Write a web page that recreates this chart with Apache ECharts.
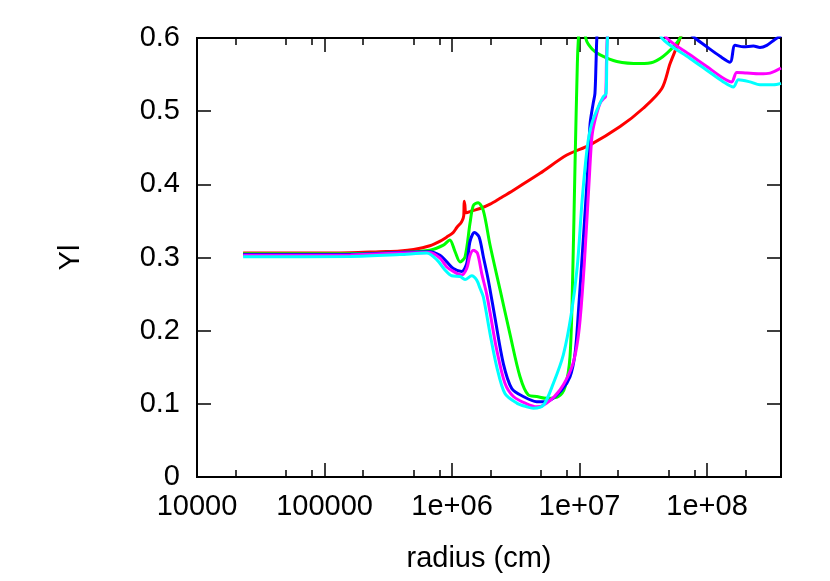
<!DOCTYPE html>
<html>
<head>
<meta charset="utf-8">
<script src="https://cdn.jsdelivr.net/npm/echarts@6/dist/echarts.min.js"></script>
<style>
  html, body { margin: 0; padding: 0; background: #ffffff; }
  #chart { width: 830px; height: 581px; }
</style>
</head>
<body>
<div id="chart"></div>
<script>
// ---- Data (radius in cm, Yl) ----
const xMajorTicks = [1e4, 1e5, 1e6, 1e7, 1e8];
const xMajorLabels = ['10000', '100000', '1e+06', '1e+07', '1e+08'];
const xMinorTicks = [2e4, 5e4, 8e4, 2e5, 5e5, 8e5, 2e6, 5e6, 8e6, 2e7, 5e7, 8e7, 2e8];
const yTicks = [0, 0.1, 0.2, 0.3, 0.4, 0.5, 0.6];

const seriesNames = ['red', 'green', 'blue', 'magenta', 'cyan'];
const seriesColors = ['#ff0000', '#00ff00', '#0000ff', '#ff00ff', '#00ffff'];

const redData = [
  [2.3e4, 0.306], [6.4e4, 0.306], [1.6e5, 0.3065], [2.7e5, 0.308], [3.9e5, 0.309],
  [5e5, 0.311], [6.7e5, 0.316], [8e5, 0.322], [9.1e5, 0.328], [1.02e6, 0.334],
  [1.09e6, 0.341], [1.19e6, 0.349], [1.235e6, 0.357], [1.245e6, 0.377], [1.26e6, 0.372],
  [1.29e6, 0.361], [1.45e6, 0.364], [1.66e6, 0.367], [1.99e6, 0.373], [2.38e6, 0.381],
  [3.03e6, 0.392], [4.9e6, 0.415], [7.94e6, 0.44], [1.21e7, 0.454], [2.08e7, 0.479],
  [3.16e7, 0.504], [4.42e7, 0.531], [5.13e7, 0.565], [6.14e7, 0.6], [7.4e7, 0.65],
  [1e8, 0.72]
];

const greenData = [
  [2.3e4, 0.305], [1.6e5, 0.3055], [3.9e5, 0.307], [6.7e5, 0.310], [8.55e5, 0.317],
  [9.6e5, 0.324], [1.056e6, 0.308], [1.156e6, 0.294], [1.265e6, 0.301], [1.384e6, 0.347],
  [1.469e6, 0.371], [1.6e6, 0.375], [1.76e6, 0.364], [1.986e6, 0.317], [2.38e6, 0.256],
  [2.85e6, 0.195], [3.414e6, 0.137], [3.966e6, 0.112], [4.614e6, 0.110], [5.53e6, 0.1075],
  [6.82e6, 0.110], [7.69e6, 0.123], [8.42e6, 0.165], [8.85e6, 0.28], [9.22e6, 0.429],
  [9.61e6, 0.565], [9.78e6, 0.597], [1.03e7, 0.65], [1.08e7, 0.63], [1.125e7, 0.598],
  [1.253e7, 0.585], [1.45e7, 0.577], [1.96e7, 0.568], [2.98e7, 0.565], [3.79e7, 0.567],
  [4.83e7, 0.579], [6.14e7, 0.6], [8e7, 0.65]
];

const blueData = [
  [2.3e4, 0.304], [1.6e5, 0.3045], [3.9e5, 0.307], [6.7e5, 0.308], [8.05e5, 0.303],
  [9.1e5, 0.294], [1.024e6, 0.285], [1.19e6, 0.281], [1.304e6, 0.292], [1.384e6, 0.322],
  [1.5e6, 0.334], [1.63e6, 0.328], [1.76e6, 0.301], [1.93e6, 0.268], [2.17e6, 0.218],
  [2.525e6, 0.155], [2.94e6, 0.121], [3.62e6, 0.110], [4.61e6, 0.103], [5.53e6, 0.103],
  [7.25e6, 0.119], [8.42e6, 0.137], [9.22e6, 0.169], [9.78e6, 0.224], [1.07e7, 0.325],
  [1.16e7, 0.42], [1.21e7, 0.483], [1.28e7, 0.511], [1.32e7, 0.524], [1.346e7, 0.565],
  [1.364e7, 0.597], [1.45e7, 0.68], [3e7, 0.72], [6.8e7, 0.612], [8.05e7, 0.6],
  [9.95e7, 0.588], [1.265e8, 0.575], [1.514e8, 0.567], [1.658e8, 0.59], [1.93e8, 0.588],
  [2.31e8, 0.589], [2.6e8, 0.587], [2.94e8, 0.59], [3.4e8, 0.598], [3.8e8, 0.603]
];

const magentaData = [
  [2.3e4, 0.303], [1.6e5, 0.3035], [3.9e5, 0.306], [6.7e5, 0.307], [8.05e5, 0.299],
  [9.1e5, 0.287], [1.024e6, 0.281], [1.19e6, 0.276], [1.304e6, 0.285], [1.384e6, 0.303],
  [1.469e6, 0.310], [1.58e6, 0.306], [1.71e6, 0.278], [1.87e6, 0.25], [1.99e6, 0.224],
  [2.24e6, 0.174], [2.6e6, 0.128], [3.03e6, 0.110], [3.85e6, 0.100], [4.61e6, 0.096],
  [5.53e6, 0.101], [7.03e6, 0.119], [8.69e6, 0.150], [9.5e6, 0.178], [1.01e7, 0.215],
  [1.09e7, 0.292], [1.19e7, 0.406], [1.25e7, 0.465], [1.323e7, 0.488], [1.449e7, 0.511],
  [1.538e7, 0.517], [1.6e7, 0.52], [1.625e7, 0.565], [1.645e7, 0.597], [1.75e7, 0.68],
  [3e7, 0.7], [4.3e7, 0.62], [4.83e7, 0.6], [7.36e7, 0.577], [9.95e7, 0.561],
  [1.343e8, 0.545], [1.562e8, 0.540], [1.71e8, 0.553], [2.05e8, 0.552], [2.6e8, 0.551],
  [3.12e8, 0.552], [3.8e8, 0.559]
];

const cyanData = [
  [2.3e4, 0.301], [1.6e5, 0.3015], [3.9e5, 0.304], [6.33e5, 0.306], [7.58e5, 0.297],
  [8.8e5, 0.283], [9.95e5, 0.275], [1.156e6, 0.274], [1.265e6, 0.270], [1.428e6, 0.275],
  [1.562e6, 0.269], [1.658e6, 0.258], [1.76e6, 0.246], [1.986e6, 0.196], [2.24e6, 0.151],
  [2.6e6, 0.114], [3.22e6, 0.101], [3.85e6, 0.096], [4.34e6, 0.094], [5.2e6, 0.098],
  [6.23e6, 0.128], [7.46e6, 0.167], [8.6e6, 0.222], [9.6e6, 0.288], [1.05e7, 0.38],
  [1.15e7, 0.451], [1.246e7, 0.483], [1.404e7, 0.506], [1.538e7, 0.52], [1.614e7, 0.524],
  [1.634e7, 0.565], [1.652e7, 0.597], [1.75e7, 0.68], [3e7, 0.7], [4e7, 0.63],
  [4.42e7, 0.6], [7.36e7, 0.572], [9.95e7, 0.556], [1.343e8, 0.540], [1.608e8, 0.533],
  [1.76e8, 0.543], [2.175e8, 0.540], [2.6e8, 0.536], [3.31e8, 0.536], [3.8e8, 0.538]
];

const allData = [redData, greenData, blueData, magentaData, cyanData];

// ---- Chart ----
const FONT = '"Liberation Sans", Arial, Helvetica, sans-serif';
const FS = 29;
const chart = echarts.init(document.getElementById('chart'), null, { renderer: 'canvas' });

const X_MIN = 1e4, X_MAX = 3.8e8;
const labelFor = v => {
  const i = xMajorTicks.findIndex(t => Math.abs(Math.log10(t) - Math.log10(v)) < 1e-6);
  return i >= 0 ? xMajorLabels[i] : '';
};

function xAx(position, ticks, len, showLabels) {
  return {
    type: 'log', logBase: 10, min: X_MIN, max: X_MAX, position: position,
    axisLine: { show: false },
    splitLine: { show: false },
    minorTick: { show: false },
    axisTick: { show: true, inside: true, length: len, customValues: ticks,
      lineStyle: { color: '#000', width: 1.5 } },
    axisLabel: { show: showLabels, customValues: xMajorTicks, formatter: labelFor,
      color: '#000', fontFamily: FONT, fontSize: FS, margin: 15 },
    name: showLabels && position === 'bottom' ? 'radius (cm)' : '',
    nameLocation: 'middle', nameGap: 67,
    nameTextStyle: { color: '#000', fontFamily: FONT, fontSize: FS, padding: [0, 20, 0, 0] }
  };
}

const option = {
  animation: false,
  backgroundColor: '#ffffff',
  grid: { left: 197, top: 38, right: 49, bottom: 104, show: true,
    borderColor: '#000', borderWidth: 2, backgroundColor: 'transparent' },
  xAxis: [
    xAx('bottom', xMajorTicks, 14, true),
    xAx('bottom', xMinorTicks, 7, false),
    xAx('top', xMajorTicks, 14, false),
    xAx('top', xMinorTicks, 7, false)
  ],
  yAxis: [
    { type: 'value', min: 0, max: 0.6, interval: 0.1, position: 'left',
      axisLine: { show: false }, splitLine: { show: false },
      axisTick: { show: true, inside: true, length: 14, lineStyle: { color: '#000', width: 1.5 } },
      axisLabel: { color: '#000', fontFamily: FONT, fontSize: FS, margin: 17,
        formatter: v => String(Math.round(v * 10) / 10) },
      name: 'Yl', nameLocation: 'middle', nameGap: 112,
      nameTextStyle: { color: '#000', fontFamily: FONT, fontSize: FS } },
    { type: 'value', min: 0, max: 0.6, interval: 0.1, position: 'right',
      axisLine: { show: false }, splitLine: { show: false },
      axisTick: { show: true, inside: true, length: 14, lineStyle: { color: '#000', width: 1.5 } },
      axisLabel: { show: false } }
  ],
  series: allData.map((d, i) => ({
    name: seriesNames[i], type: 'line', data: d, xAxisIndex: 0, yAxisIndex: 0,
    showSymbol: false, symbol: 'none', clip: true, smooth: 0.3,
    lineStyle: { color: seriesColors[i], width: 3 },
    itemStyle: { color: seriesColors[i] }
  }))
};
chart.setOption(option);
</script>
</body>
</html>
